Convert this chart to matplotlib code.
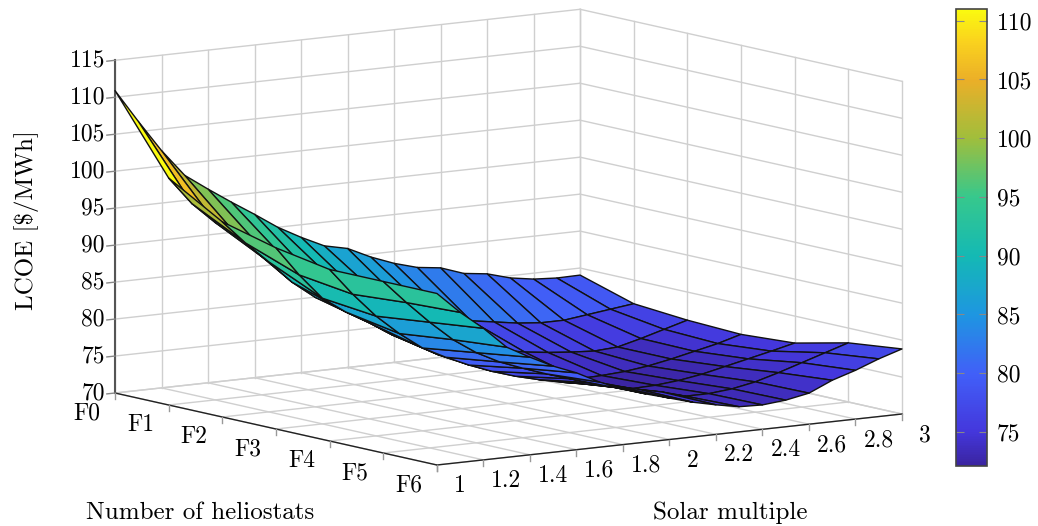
import matplotlib
matplotlib.use("Agg")
import matplotlib.pyplot as plt
from matplotlib.cm import ScalarMappable
from matplotlib.colors import LinearSegmentedColormap, Normalize
from mpl_toolkits.mplot3d import proj3d
import numpy as np

# values
solar_multiple = [1.0, 1.1, 1.2, 1.3, 1.4, 1.5, 1.6, 1.7, 1.8, 1.9, 2.0,
                  2.1, 2.2, 2.3, 2.4, 2.5, 2.6, 2.7, 2.8, 2.9, 3.0]
heliostats = [0, 1, 2, 3, 4, 5, 6]
lcoe_f0 = [110.9, 106.4, 102.1, 98.4, 96.2, 94.1, 92.1, 90.0, 88.3, 86.8, 86.1,
           84.6, 83.4, 82.5, 82.1, 81.0, 80.6, 79.7, 79.2, 79.0, 79.05]
lcoe_f1 = [100.7, 96.9, 94.0, 91.7, 89.8, 88.0, 86.0, 84.7, 83.0, 81.8, 80.6,
           79.4, 78.0, 76.9, 76.4, 75.9, 75.6, 75.6, 76.0, 76.4, 76.8]
lcoe_f2 = [96.4, 93.2, 90.3, 87.2, 84.8, 83.3, 81.3, 79.2, 78.1, 77.2, 76.4,
           75.6, 74.9, 74.3, 73.9, 73.6, 73.4, 73.6, 74.4, 75.3, 76.2]
lcoe_f3 = [94.5, 90.5, 87.0, 84.8, 83.0, 81.0, 79.3, 77.6, 76.6, 75.5, 74.5,
           73.6, 72.8, 72.3, 72.4, 72.6, 73.0, 73.6, 74.3, 75.0, 75.9]
lcoe_f4 = [93.2, 89.5, 86.2, 83.5, 81.2, 79.6, 78.2, 77.0, 76.0, 75.2, 74.5,
           73.9, 73.2, 72.6, 72.7, 73.0, 73.5, 74.2, 74.9, 75.6, 76.35]
lcoe_f5 = [93.2, 90.0, 87.0, 84.3, 82.2, 80.6, 79.4, 78.3, 77.3, 76.4, 75.6,
           74.8, 74.1, 73.2, 73.2, 73.5, 74.1, 75.0, 76.0, 77.0, 78.0]
lcoe_f6 = [93.2, 90.3, 87.8, 84.9, 83.2, 81.65, 80.4, 78.8, 77.5, 76.5, 75.6,
           74.7, 74.0, 73.4, 73.3, 73.6, 74.2, 75.6, 76.6, 77.8, 78.8]

sm_ticks = [1, 1.2, 1.4, 1.6, 1.8, 2, 2.2, 2.4, 2.6, 2.8, 3]
sm_labels = ["1", "1.2", "1.4", "1.6", "1.8", "2", "2.2", "2.4", "2.6", "2.8", "3"]
f_labels = ["F0", "F1", "F2", "F3", "F4", "F5", "F6"]
z_ticks = [70, 75, 80, 85, 90, 95, 100, 105, 110, 115]
bar_ticks = [75, 80, 85, 90, 95, 100, 105, 110]

W, H = 1038, 526
GRID = "#cfcfcf"
AXIS = "#555555"

plt.rcParams["font.family"] = ["cmr10", "DejaVu Serif"]
plt.rcParams["axes.unicode_minus"] = False
FS = 17
LABEL_FS = 18

parula = LinearSegmentedColormap.from_list("parula", [
    (0.0, (58 / 255, 36 / 255, 160 / 255)),
    (0.074, (68 / 255, 55 / 255, 220 / 255)),
    (0.2, (65 / 255, 95 / 255, 248 / 255)),
    (0.33, (30 / 255, 150 / 255, 225 / 255)),
    (0.46, (20 / 255, 185 / 255, 180 / 255)),
    (0.59, (55 / 255, 200 / 255, 140 / 255)),
    (0.718, (160 / 255, 190 / 255, 60 / 255)),
    (0.846, (235 / 255, 175 / 255, 40 / 255)),
    (0.93, (250 / 255, 210 / 255, 30 / 255)),
    (1.0, (250 / 255, 250 / 255, 15 / 255)),
])
norm = Normalize(72.1, 111)

fig = plt.figure(figsize=(W / 100, H / 100), dpi=100)

# oversized square axes so nothing gets clipped at its edge
side = 1150
ax = fig.add_axes([(W - side) / 2 / W, (H - side) / 2 / H, side / W, side / H],
                  projection="3d", proj_type="ortho")
ax.set_axis_off()
ax.computed_zorder = False
ax.view_init(elev=9.01, azim=-125)
ax.set_xlim(1, 3)
ax.set_ylim(6, 0)
ax.set_zlim(70, 115)
ax.set_box_aspect((568, 561.5, 337), zoom=1.0)


def to_px(x, y, z):
    px, py, _ = proj3d.proj_transform(x, y, z, ax.get_proj())
    return ax.transData.transform((px, py))


# fit the projected box onto the reference corners
ax.apply_aspect()
a = to_px(1, 0, 70)
b = to_px(3, 6, 70)
ax.set_box_aspect((568, 561.5, 337), zoom=(902 - 115) / (b[0] - a[0]))
a = to_px(1, 0, 70)
pos = ax.get_position(original=True)
ax.set_position([pos.x0 + (115 - a[0]) / W, pos.y0 + (H - 393 - a[1]) / H, pos.width, pos.height])
ax.apply_aspect()

# walls and floor grid
for s in sm_ticks:
    ax.plot([s, s], [0, 0], [70, 115], color=GRID, lw=1, zorder=1)
    ax.plot([s, s], [0, 6], [70, 70], color=GRID, lw=1, zorder=1)
for f in heliostats:
    ax.plot([3, 3], [f, f], [70, 115], color=GRID, lw=1, zorder=1)
    ax.plot([1, 3], [f, f], [70, 70], color=GRID, lw=1, zorder=1)
for z in z_ticks:
    ax.plot([1, 3], [0, 0], [z, z], color=GRID, lw=1, zorder=1)
    ax.plot([3, 3], [0, 6], [z, z], color=GRID, lw=1, zorder=1)

# axis lines and ticks
ax.plot([1, 1], [0, 0], [70, 115], color=AXIS, lw=1.5, zorder=2)
ax.plot([1, 1], [0, 6], [70, 70], color="#222222", lw=1, zorder=2)
ax.plot([1, 3], [6, 6], [70, 70], color="#222222", lw=1, zorder=2)
for z in z_ticks:
    ax.plot([1, 0.965], [0, 0], [z, z], color="#888888", lw=1, zorder=2)
for f in heliostats:
    ax.plot([1, 1], [f, f], [70, 69.2], color="#999999", lw=1, zorder=2)
for s in sm_ticks:
    ax.plot([s, s], [6, 6], [70, 69.2], color="#999999", lw=1, zorder=2)

X, Y = np.meshgrid(solar_multiple, heliostats)
Z = np.array([lcoe_f0, lcoe_f1, lcoe_f2, lcoe_f3, lcoe_f4, lcoe_f5, lcoe_f6])
# each cell takes the colour of its first corner, not the mean
ax.plot_surface(X, Y, Z, rstride=1, cstride=1, facecolors=parula(norm(Z)),
                edgecolor="#111111", linewidth=1.0, shade=False, zorder=3)

# tick labels
for z in z_ticks:
    ax.annotate(str(z), xy=proj3d.proj_transform(1, 0, z, ax.get_proj())[:2],
                xytext=(-10, 0), textcoords="offset pixels", ha="right", va="center",
                fontsize=FS, annotation_clip=False)
for f, label in zip(heliostats, f_labels):
    ax.annotate(label, xy=proj3d.proj_transform(1, f, 70, ax.get_proj())[:2],
                xytext=(-28, -20), textcoords="offset pixels", ha="center", va="center",
                fontsize=FS, annotation_clip=False)
for s, label in zip(sm_ticks, sm_labels):
    ax.annotate(label, xy=proj3d.proj_transform(s, 6, 70, ax.get_proj())[:2],
                xytext=(23, -21), textcoords="offset pixels", ha="center", va="center",
                fontsize=FS, annotation_clip=False)

fig.text(27 / W, 1 - 220 / H, "LCOE [$/MWh]", rotation=90, ha="center", va="center",
         fontsize=LABEL_FS, parse_math=False)
fig.text(200 / W, 1 - 513 / H, "Number of heliostats", ha="center", va="center", fontsize=LABEL_FS)
fig.text(730 / W, 1 - 513 / H, "Solar multiple", ha="center", va="center", fontsize=LABEL_FS)

# colorbar
cax = fig.add_axes([956 / W, 1 - 466 / H, 31 / W, 457 / H])
cb = fig.colorbar(ScalarMappable(norm=norm, cmap=parula), cax=cax)
cb.set_ticks(bar_ticks)
cb.outline.set_edgecolor("#444444")
cb.outline.set_linewidth(1.2)
cax.tick_params(direction="in", left=True, right=True, length=6, color="#888888",
                labelsize=FS, pad=7)

fig.savefig("out.png", dpi=100)
